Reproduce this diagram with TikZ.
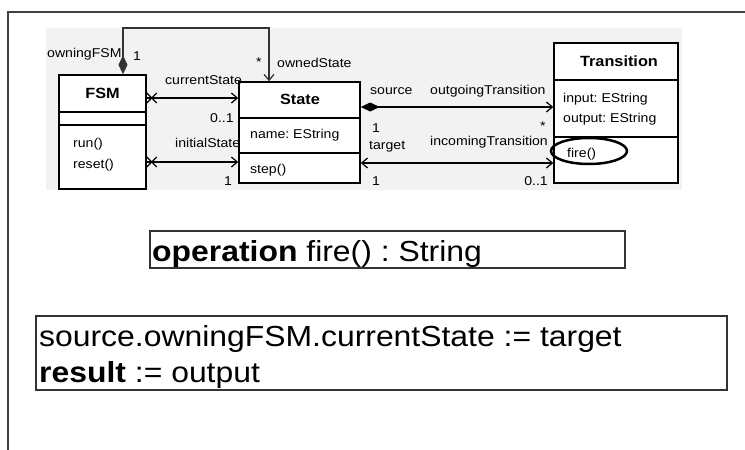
\documentclass[tikz,border=0pt]{standalone}
\usepackage{fontspec}
\setmainfont{Liberation Sans}[FakeStretch=1.1]
\usetikzlibrary{arrows.meta,calc,shapes.geometric}

\begin{document}
\frenchspacing
\begin{tikzpicture}[x=1pt,y=-1pt,
  lbl/.style={font=\fontsize{12.8}{15}\selectfont, inner sep=0pt, anchor=base west},
  ttl/.style={font=\fontsize{14.8}{18}\selectfont\bfseries, inner sep=0pt, anchor=base},
  big/.style={font=\fontsize{29}{34}\selectfont, inner sep=0pt, anchor=base west},
  umlbox/.style={draw=black, line width=1.4pt, fill=white, inner sep=0pt},
  sepline/.style={line width=1.8pt},
  conn/.style={line width=1.8pt},
  thinconn/.style={line width=1.2pt, draw=black!80},
  openhead/.style={-{Straight Barb[length=6pt,width=10pt,line width=1.2pt]}},
  bothheads/.style={{Straight Barb[length=6pt,width=10pt,line width=1.2pt]}-{Straight Barb[length=6pt,width=10pt,line width=1.2pt]}},
  composite/.style={{Diamond[length=19pt,width=9pt]}-{Straight Barb[length=6pt,width=10pt,line width=1.2pt]}},
  crossmark/.style={line width=1.2pt},
  textbox/.style={draw=black!80, line width=1.2pt, inner sep=0pt}
]
% page and frame
\useasboundingbox (0,0) rectangle (745,450);
\fill[white] (0,0) rectangle (745,450);
\draw[line width=1.2pt, black!75] (8,450) -- (8,12) -- (745,12);

% class diagram backdrop
\fill[black!5] (46,28) rectangle (682,190);

% classes
\node[umlbox, minimum width=87pt, minimum height=114pt] (fsm) at (102.5,132) {};
\node[umlbox, minimum width=121pt, minimum height=101pt] (state) at (299.5,132.5) {};
\node[umlbox, minimum width=124pt, minimum height=140pt] (trans) at (616,113) {};

% compartments
\draw[sepline] (fsm.west |- 0,112) -- (fsm.east |- 0,112);
\draw[sepline] (fsm.west |- 0,125) -- (fsm.east |- 0,125);
\draw[sepline] (state.west |- 0,118) -- (state.east |- 0,118);
\draw[sepline] (state.west |- 0,153) -- (state.east |- 0,153);
\draw[sepline] (trans.west |- 0,80) -- (trans.east |- 0,80);
\draw[sepline] (trans.west |- 0,137) -- (trans.east |- 0,137);

% class contents
\node[ttl] (tfsm) at (102.5,98) {FSM};
\node[lbl] (run) at (73,147) {run()};
\node[lbl] (reset) at (73,168) {reset()};
\node[ttl] (tstate) at (300,104) {State};
\node[lbl] (sname) at (250,138) {name: EString};
\node[lbl] (sstep) at (250,173) {step()};
\node[ttl] (ttrans) at (619,66) {Transition};
\node[lbl] (tin) at (563,102) {input: EString};
\node[lbl] (tout) at (563,122) {output: EString};
\node[lbl] (tfire) at (567,157) {fire()};
\node[ellipse, draw, line width=2.5pt, minimum width=76pt, minimum height=26pt, inner sep=0pt] (hl) at (589,151) {};

% FSM owns its states
\coordinate (own) at (fsm.north -| 123,0);
\coordinate (loopA) at (123,28);
\coordinate (loopB) at (269,28);
\draw[thinconn, composite] (own) -- (loopA) -- (loopB) -- (state.north -| loopB);

% FSM to State references
\coordinate (curA) at (fsm.east |- 0,98);
\coordinate (iniA) at (fsm.east |- 0,162);
\draw[conn, openhead] (curA) -- (state.west |- curA);
\draw[conn, openhead] (iniA) -- (state.west |- iniA);
\draw[crossmark] ($(curA)+(0,-5)$) -- ($(curA)+(10,5)$);
\draw[crossmark] ($(curA)+(0,5)$) -- ($(curA)+(10,-5)$);
\draw[crossmark] ($(iniA)+(0,-5)$) -- ($(iniA)+(10,5)$);
\draw[crossmark] ($(iniA)+(0,5)$) -- ($(iniA)+(10,-5)$);

% State to Transition
\coordinate (srcA) at (state.east |- 0,107);
\coordinate (tgtA) at (state.east |- 0,163);
\draw[conn, composite] (srcA) -- (trans.west |- srcA);
\draw[conn, bothheads] (tgtA) -- (trans.west |- tgtA);

% role names and multiplicities
\node[lbl] (l1) at (47,57) {owningFSM};
\node[lbl] (l2) at (133,60) {1};
\node[lbl] (l3) at (256,66) {*};
\node[lbl] (l4) at (277,67) {ownedState};
\node[lbl] (l5) at (165,84) {currentState};
\node[lbl] (l6) at (210,122) {0..1};
\node[lbl] (l7) at (175,147) {initialState};
\node[lbl] (l8) at (224,185) {1};
\node[lbl] (l9) at (370,94) {source};
\node[lbl] (l10) at (430,94) {outgoingTransition};
\node[lbl] (l11) at (372,132) {1};
\node[lbl] (l12) at (540,130) {*};
\node[lbl] (l13) at (369,149) {target};
\node[lbl] (l14) at (430,145) {incomingTransition};
\node[lbl] (l15) at (372,185) {1};
\node[lbl, anchor=base east] (l16) at (548,185) {0..1};

% operation signature and body
\node[textbox, minimum width=475pt, minimum height=37pt] (opbox) at (387.5,249.5) {};
\node[big] (optext) at (152,261.5) {\textbf{operation} fire() : String};
\node[textbox, minimum width=691pt, minimum height=74pt] (bodybox) at (381.5,353) {};
\node[big] (body1) at (39,346.5) {source.owningFSM.currentState := target};
\node[big] (body2) at (39,382) {\textbf{result} := output};
\end{tikzpicture}
\end{document}
